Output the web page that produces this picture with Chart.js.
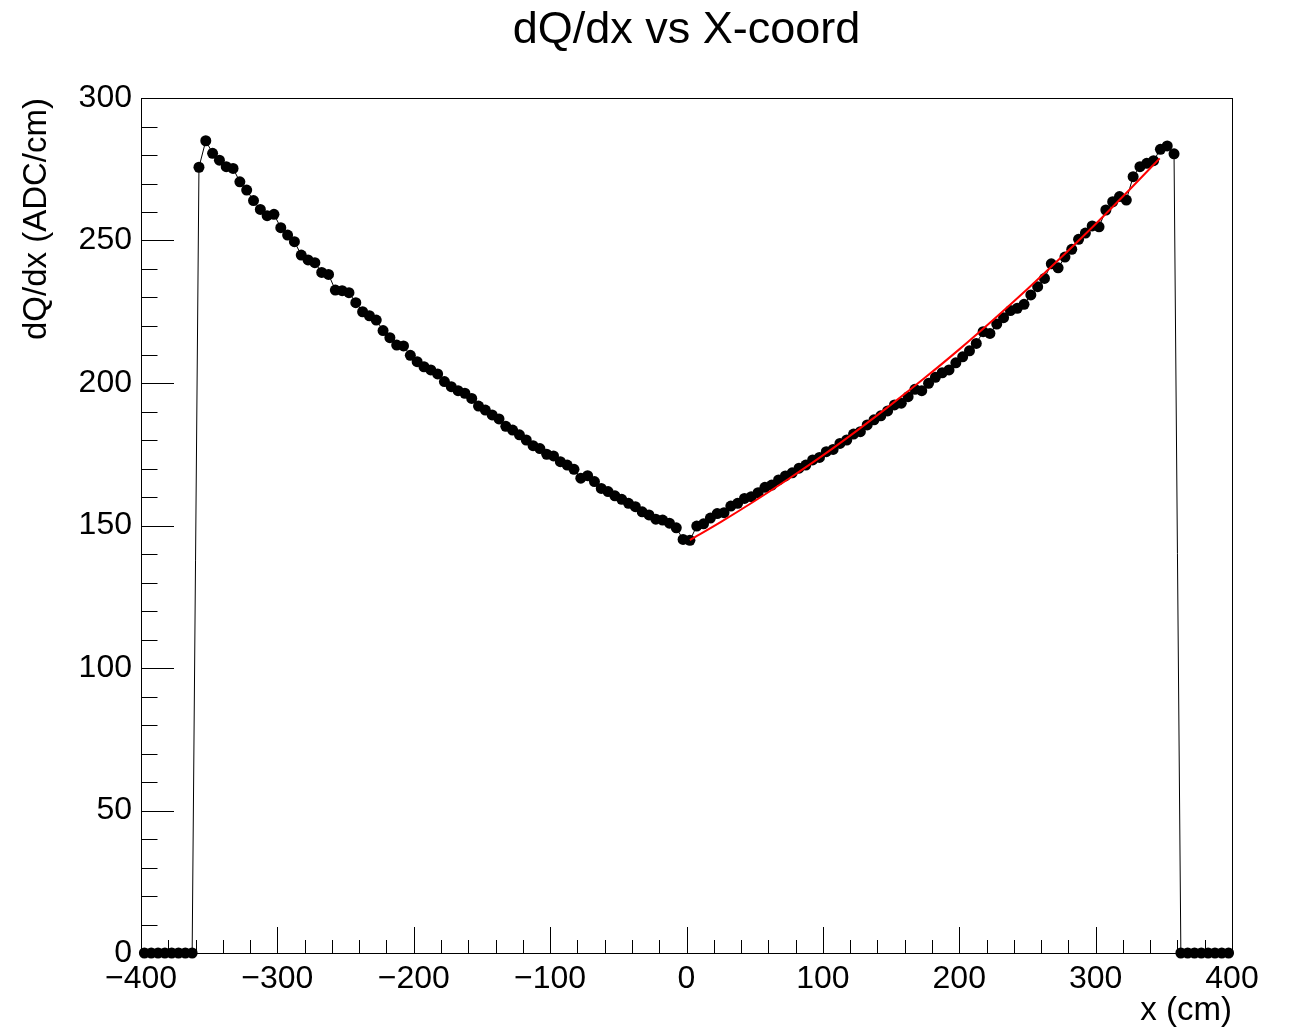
<!DOCTYPE html>
<html>
<head>
<meta charset="utf-8">
<title>dQ/dx vs X-coord</title>
<script src="https://cdn.jsdelivr.net/npm/chart.js@4/dist/chart.umd.min.js"></script>
<style>
  html, body { margin: 0; padding: 0; background: #fff; }
  #wrap { width: 1291px; height: 1029px; }
</style>
</head>
<body>
<div id="wrap"><canvas id="chart" width="1291" height="1029"></canvas></div>
<script>
// bin centres (5 cm bins from -400 to 400)
const binCenters = [
  -397.5, -392.5, -387.5, -382.5, -377.5, -372.5, -367.5, -362.5, -357.5, -352.5,
  -347.5, -342.5, -337.5, -332.5, -327.5, -322.5, -317.5, -312.5, -307.5, -302.5,
  -297.5, -292.5, -287.5, -282.5, -277.5, -272.5, -267.5, -262.5, -257.5, -252.5,
  -247.5, -242.5, -237.5, -232.5, -227.5, -222.5, -217.5, -212.5, -207.5, -202.5,
  -197.5, -192.5, -187.5, -182.5, -177.5, -172.5, -167.5, -162.5, -157.5, -152.5,
  -147.5, -142.5, -137.5, -132.5, -127.5, -122.5, -117.5, -112.5, -107.5, -102.5,
  -97.5, -92.5, -87.5, -82.5, -77.5, -72.5, -67.5, -62.5, -57.5, -52.5,
  -47.5, -42.5, -37.5, -32.5, -27.5, -22.5, -17.5, -12.5, -7.5, -2.5,
  2.5, 7.5, 12.5, 17.5, 22.5, 27.5, 32.5, 37.5, 42.5, 47.5,
  52.5, 57.5, 62.5, 67.5, 72.5, 77.5, 82.5, 87.5, 92.5, 97.5,
  102.5, 107.5, 112.5, 117.5, 122.5, 127.5, 132.5, 137.5, 142.5, 147.5,
  152.5, 157.5, 162.5, 167.5, 172.5, 177.5, 182.5, 187.5, 192.5, 197.5,
  202.5, 207.5, 212.5, 217.5, 222.5, 227.5, 232.5, 237.5, 242.5, 247.5,
  252.5, 257.5, 262.5, 267.5, 272.5, 277.5, 282.5, 287.5, 292.5, 297.5,
  302.5, 307.5, 312.5, 317.5, 322.5, 327.5, 332.5, 337.5, 342.5, 347.5,
  352.5, 357.5, 362.5, 367.5, 372.5, 377.5, 382.5, 387.5, 392.5, 397.5
];

// dQ/dx per bin (ADC/cm)
const dqdx = [
  0, 0, 0, 0, 0, 0, 0, 0, 275.7, 285.0,
  280.6, 278.2, 275.9, 275.3, 270.6, 267.7, 264.0, 260.9, 258.7, 259.2,
  254.5, 251.9, 249.6, 244.9, 243.2, 242.2, 238.8, 238.1, 232.6, 232.4,
  231.7, 228.2, 225.0, 223.6, 222.1, 218.4, 215.9, 213.3, 213.0, 209.7,
  207.5, 205.7, 204.6, 203.2, 200.5, 198.7, 197.3, 196.4, 194.6, 191.9,
  190.5, 188.8, 187.4, 184.8, 183.5, 181.8, 180.0, 178.0, 177.0, 175.0,
  174.4, 172.4, 171.2, 169.7, 166.6, 167.5, 165.4, 163.0, 161.9, 160.4,
  159.2, 157.8, 156.6, 154.8, 153.7, 152.2, 151.9, 150.8, 149.2, 145.1,
  144.8, 149.8, 150.6, 152.6, 154.2, 154.5, 156.8, 157.8, 159.5, 160.1,
  161.5, 163.4, 164.2, 166.0, 167.4, 168.5, 170.1, 171.2, 173.0, 173.9,
  175.9, 176.7, 178.8, 180.0, 182.1, 182.9, 185.3, 187.1, 188.5, 190.2,
  192.3, 192.9, 195.2, 197.8, 197.3, 199.9, 202.0, 203.6, 204.6, 207.1,
  209.2, 211.3, 213.9, 218.0, 217.4, 220.7, 222.9, 225.4, 226.2, 227.6,
  230.9, 233.8, 236.7, 241.8, 240.4, 244.2, 246.9, 250.4, 252.6, 255.1,
  254.8, 260.7, 263.6, 265.4, 264.2, 272.4, 275.9, 277.1, 278.0, 282.0,
  283.2, 280.4, 0, 0, 0, 0, 0, 0, 0, 0
];

// red fit curve
const fitX = [2.5, 25, 50, 75, 100, 125, 150, 175, 200, 225, 250, 275, 300, 325, 347];
const fitY = [144.9, 151.2, 158.6, 166.4, 174.6, 183.3, 192.4, 201.9, 211.8, 222.2, 233.0, 244.2, 255.8, 267.9, 278.8];

// axis ticks
const xMajor = [-400, -300, -200, -100, 0, 100, 200, 300, 400];
const xMinor = [-400, -380, -360, -340, -320, -300, -280, -260, -240, -220,
  -200, -180, -160, -140, -120, -100, -80, -60, -40, -20,
  0, 20, 40, 60, 80, 100, 120, 140, 160, 180,
  200, 220, 240, 260, 280, 300, 320, 340, 360, 380, 400];
const yMajor = [0, 50, 100, 150, 200, 250, 300];
const yMinor = [0, 10, 20, 30, 40, 50, 60, 70, 80, 90, 100, 110, 120, 130, 140, 150,
  160, 170, 180, 190, 200, 210, 220, 230, 240, 250, 260, 270, 280, 290, 300];

const FONT = "'Liberation Sans', Arial, Helvetica, sans-serif";
Chart.defaults.font.family = FONT;
Chart.defaults.color = '#000';

// ROOT style frame with ticks pointing inwards
const rootFrame = {
  id: 'rootFrame',
  afterDatasetsDraw(chart) {
    const { ctx, chartArea: a, scales: { x, y } } = chart;
    ctx.save();
    ctx.strokeStyle = '#000';
    ctx.lineWidth = 1;
    ctx.beginPath();
    xMinor.forEach(v => {
      const px = Math.round(x.getPixelForValue(v)) + 0.5;
      const len = xMajor.includes(v) ? 26 : 13;
      ctx.moveTo(px, a.bottom);
      ctx.lineTo(px, a.bottom - len);
    });
    yMinor.forEach(v => {
      const py = Math.round(y.getPixelForValue(v)) + 0.5;
      const len = yMajor.includes(v) ? 33 : 16.5;
      ctx.moveTo(a.left, py);
      ctx.lineTo(a.left + len, py);
    });
    ctx.stroke();
    ctx.strokeRect(Math.round(a.left) + 0.5, Math.round(a.top) + 0.5,
      Math.round(a.right - a.left), Math.round(a.bottom - a.top));
    ctx.restore();
  }
};

new Chart(document.getElementById('chart'), {
  type: 'scatter',
  data: {
    datasets: [
      {
        label: 'fit',
        data: fitX.map((x, i) => ({ x, y: fitY[i] })),
        showLine: true,
        borderColor: '#ff0000',
        borderWidth: 2,
        pointRadius: 0,
        cubicInterpolationMode: 'monotone',
        order: 0
      },
      {
        label: 'dQ/dx',
        data: binCenters.map((x, i) => ({ x, y: dqdx[i] })),
        showLine: true,
        borderColor: '#000',
        borderWidth: 1,
        pointRadius: 5.5,
        pointBackgroundColor: '#000',
        pointBorderColor: '#000',
        pointBorderWidth: 0,
        clip: false,
        order: 1
      }
    ]
  },
  options: {
    responsive: false,
    animation: false,
    events: [],
    layout: { padding: { right: 59 } },
    plugins: {
      legend: { display: false },
      tooltip: { enabled: false },
      title: {
        display: true,
        text: 'dQ/dx vs X-coord',
        fullSize: false,
        color: '#000',
        font: { size: 45, weight: 'normal', lineHeight: 1.2 },
        padding: { top: 4, bottom: 40 }
      }
    },
    scales: {
      x: {
        type: 'linear',
        min: -400,
        max: 400,
        grid: { display: false, drawTicks: false },
        border: { display: false },
        afterFit: s => { s.height = 76; },
        ticks: {
          stepSize: 100,
          autoSkip: false,
          maxRotation: 0,
          padding: 7,
          font: { size: 32 },
          callback: v => String(v).replace('-', '\u2212')
        },
        title: {
          display: true,
          text: 'x (cm)',
          align: 'end',
          font: { size: 33, lineHeight: 1 },
          padding: { top: 0, bottom: 2 }
        }
      },
      y: {
        type: 'linear',
        min: 0,
        max: 300,
        grid: { display: false, drawTicks: false },
        border: { display: false },
        afterFit: s => { s.width = 141; },
        ticks: {
          stepSize: 50,
          autoSkip: false,
          padding: 9,
          font: { size: 32 }
        },
        title: {
          display: true,
          text: 'dQ/dx (ADC/cm)',
          align: 'end',
          font: { size: 33, lineHeight: 1 },
          padding: { top: 20, bottom: 0 }
        }
      }
    }
  },
  plugins: [rootFrame]
});
</script>
</body>
</html>
